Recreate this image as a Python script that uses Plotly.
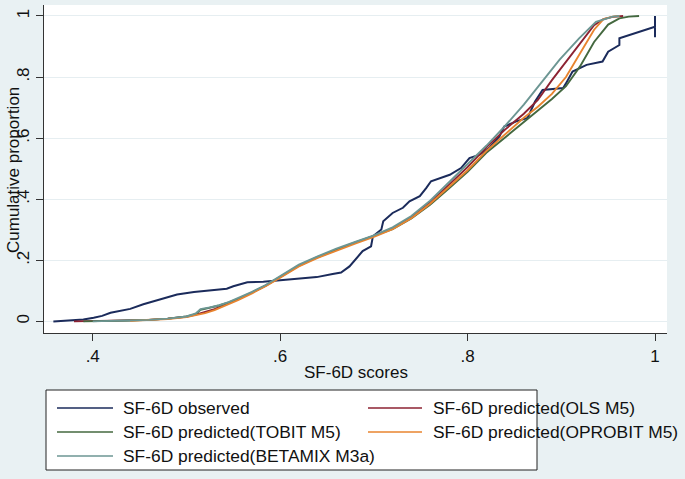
import plotly.graph_objects as go

# ---------------- data ----------------
series_names = [
    "SF-6D observed",
    "SF-6D predicted(OLS M5)",
    "SF-6D predicted(TOBIT M5)",
    "SF-6D predicted(OPROBIT M5)",
    "SF-6D predicted(BETAMIX M3a)",
]

obs_x = [0.358, 0.375, 0.39, 0.401, 0.41, 0.419, 0.43, 0.44, 0.454, 0.465, 0.476, 0.49, 0.508,
         0.526, 0.543, 0.55, 0.565, 0.582, 0.603, 0.621, 0.639, 0.656, 0.665, 0.674, 0.688,
         0.697, 0.699, 0.708, 0.710, 0.72, 0.731, 0.738, 0.749, 0.756, 0.761, 0.781, 0.793,
         0.802, 0.813, 0.823, 0.834, 0.839, 0.852, 0.864, 0.872, 0.88, 0.902, 0.906, 0.912,
         0.927, 0.944, 0.95, 0.962, 0.962, 1.0, 1.0, 1.0]
obs_y = [0.0, 0.002, 0.006, 0.012, 0.018, 0.028, 0.035, 0.041, 0.056, 0.066, 0.077, 0.088, 0.096,
         0.101, 0.107, 0.115, 0.128, 0.13, 0.135, 0.14, 0.145, 0.155, 0.16, 0.18, 0.23,
         0.246, 0.279, 0.301, 0.328, 0.355, 0.372, 0.393, 0.41, 0.437, 0.459, 0.48, 0.502,
         0.535, 0.546, 0.568, 0.606, 0.638, 0.655, 0.666, 0.72, 0.758, 0.764, 0.785, 0.818,
         0.84, 0.851, 0.883, 0.905, 0.927, 0.965, 1.0, 0.93]

ols_x = [0.38, 0.40, 0.42, 0.44, 0.46, 0.48, 0.50, 0.51, 0.52, 0.53, 0.54, 0.555, 0.57, 0.585,
         0.60, 0.62, 0.64, 0.66, 0.68, 0.70, 0.72, 0.74, 0.76, 0.78, 0.80, 0.82, 0.84, 0.86,
         0.875, 0.89, 0.905, 0.92, 0.935, 0.945, 0.955, 0.966]
ols_y = [0.0, 0.001, 0.002, 0.003, 0.005, 0.009, 0.015, 0.022, 0.03, 0.04, 0.053, 0.072, 0.094,
         0.118, 0.145, 0.182, 0.21, 0.235, 0.258, 0.28, 0.305, 0.342, 0.39, 0.447, 0.505, 0.57,
         0.628, 0.68, 0.725, 0.79, 0.85, 0.912, 0.97, 0.99, 0.997, 1.0]

tobit_x = [0.39, 0.42, 0.44, 0.46, 0.48, 0.50, 0.51, 0.515, 0.525, 0.535, 0.545, 0.555, 0.57,
           0.585, 0.60, 0.62, 0.64, 0.66, 0.68, 0.70, 0.72, 0.74, 0.76, 0.78, 0.80, 0.82, 0.84,
           0.86, 0.875, 0.89, 0.905, 0.92, 0.935, 0.95, 0.962, 0.972, 0.983]
tobit_y = [0.0, 0.001, 0.003, 0.005, 0.009, 0.016, 0.024, 0.038, 0.045, 0.052, 0.062, 0.074,
           0.095, 0.118, 0.146, 0.183, 0.211, 0.236, 0.259, 0.28, 0.302, 0.337, 0.382, 0.435,
           0.49, 0.552, 0.603, 0.652, 0.69, 0.728, 0.77, 0.835, 0.915, 0.972, 0.992, 0.998, 1.0]

oprobit_x = [0.44, 0.46, 0.48, 0.50, 0.51, 0.52, 0.53, 0.54, 0.555, 0.57, 0.585, 0.60, 0.62,
             0.64, 0.66, 0.68, 0.70, 0.72, 0.74, 0.76, 0.78, 0.80, 0.82, 0.84, 0.86, 0.875,
             0.89, 0.905, 0.92, 0.935, 0.945, 0.955, 0.962]
oprobit_y = [0.002, 0.004, 0.008, 0.014, 0.02, 0.027, 0.037, 0.05, 0.07, 0.092, 0.116, 0.143,
             0.18, 0.208, 0.232, 0.255, 0.277, 0.302, 0.338, 0.385, 0.44, 0.495, 0.558, 0.612,
             0.667, 0.703, 0.745, 0.8, 0.878, 0.955, 0.99, 0.998, 1.0]

betamix_x = [0.40, 0.42, 0.44, 0.46, 0.48, 0.50, 0.51, 0.515, 0.525, 0.535, 0.545, 0.555, 0.57,
             0.585, 0.60, 0.62, 0.64, 0.66, 0.68, 0.70, 0.72, 0.74, 0.76, 0.78, 0.80, 0.82,
             0.84, 0.86, 0.877, 0.898, 0.919, 0.937, 0.955, 0.962]
betamix_y = [0.0, 0.001, 0.003, 0.005, 0.009, 0.016, 0.026, 0.04, 0.046, 0.053, 0.063, 0.076,
             0.097, 0.12, 0.148, 0.186, 0.213, 0.238, 0.26, 0.282, 0.308, 0.345, 0.395, 0.455,
             0.512, 0.575, 0.64, 0.71, 0.775, 0.856, 0.927, 0.981, 0.998, 1.0]

x_tick_vals = [0.4, 0.6, 0.8, 1.0]
x_tick_text = [".4", ".6", ".8", "1"]
y_tick_vals = [0, 0.2, 0.4, 0.6, 0.8, 1.0]
y_tick_text = ["0", ".2", ".4", ".6", ".8", "1"]

x_title = "SF-6D scores"
y_title = "Cumulative proportion"

# ---------------- styling ----------------
colors = ["#1b2b5b", "#8c2232", "#44683f", "#e8842f", "#6c9693"]
widths = [2.0, 1.9, 1.9, 1.9, 1.9]
FONT = "Liberation Sans, Arial, sans-serif"
BG = "#e9f1f3"

W, H = 685, 479
L, R, T, B = 44, 18, 5, 146
PW, PH = W - L - R, H - T - B


def px(xp):
    return (xp - L) / PW


def py(yp):
    return (H - B - yp) / PH


xs = [obs_x, ols_x, tobit_x, oprobit_x, betamix_x]
ys = [obs_y, ols_y, tobit_y, oprobit_y, betamix_y]

fig = go.Figure()
for name, x, y, c, w in zip(series_names, xs, ys, colors, widths):
    fig.add_trace(go.Scatter(x=x, y=y, mode="lines", name=name,
                             line=dict(color=c, width=w), showlegend=False))

# custom Stata-style legend
shapes = [dict(type="rect", xref="paper", yref="paper",
               x0=px(46), x1=px(537), y0=py(470), y1=py(390),
               line=dict(color="#222", width=1), fillcolor="white", layer="below")]
annotations = []
slots = [(0, 0), (1, 0), (0, 1), (1, 1), (0, 2)]
col_line = [(57, 113), (368, 422)]
col_text = [121, 431]
row_y = [408, 432, 456]
for (col, row), name, c in zip(slots, series_names, colors):
    x0, x1 = col_line[col]
    shapes.append(dict(type="line", xref="paper", yref="paper",
                       x0=px(x0), x1=px(x1), y0=py(row_y[row]), y1=py(row_y[row]),
                       line=dict(color=c, width=1.6)))
    annotations.append(dict(xref="paper", yref="paper", x=px(col_text[col]), y=py(row_y[row]),
                            text=name, showarrow=False, xanchor="left", yanchor="middle",
                            font=dict(family=FONT, size=17.4, color="#111")))

annotations.append(dict(xref="paper", yref="paper", x=0.5, y=py(372), text=x_title,
                        showarrow=False, xanchor="center", yanchor="middle",
                        font=dict(family=FONT, size=17, color="#111")))
annotations.append(dict(xref="paper", yref="paper", x=px(13), y=py(170), text=y_title,
                        textangle=-90, showarrow=False, xanchor="center", yanchor="middle",
                        font=dict(family=FONT, size=17, color="#111")))

fig.update_layout(
    width=W, height=H,
    margin=dict(l=L, r=R, t=T, b=B, autoexpand=False),
    paper_bgcolor=BG, plot_bgcolor="white",
    font=dict(family=FONT, size=17, color="#111"),
    shapes=shapes, annotations=annotations,
    showlegend=False,
)
fig.update_xaxes(range=[0.348, 1.0128], tickvals=x_tick_vals, ticktext=x_tick_text,
                 automargin=False,
                 showgrid=False, zeroline=False, showline=True, linecolor="#333", linewidth=1.3,
                 ticks="outside", ticklen=7, tickcolor="#333", tickwidth=1.2,
                 tickfont=dict(family=FONT, size=17, color="#111"))
fig.update_yaxes(range=[-0.038, 1.036], tickvals=y_tick_vals, ticktext=y_tick_text,
                 automargin=False,
                 tickangle=-90, showgrid=True, gridcolor="#e6eef1", gridwidth=1, zeroline=False,
                 showline=True, linecolor="#333", linewidth=1.3,
                 ticks="outside", ticklen=7, tickcolor="#333", tickwidth=1.2,
                 tickfont=dict(family=FONT, size=17, color="#111"))

fig.write_html("out.html", config={"displayModeBar": False},
               post_script="document.body.style.margin='0';document.body.style.background='%s';" % BG)
